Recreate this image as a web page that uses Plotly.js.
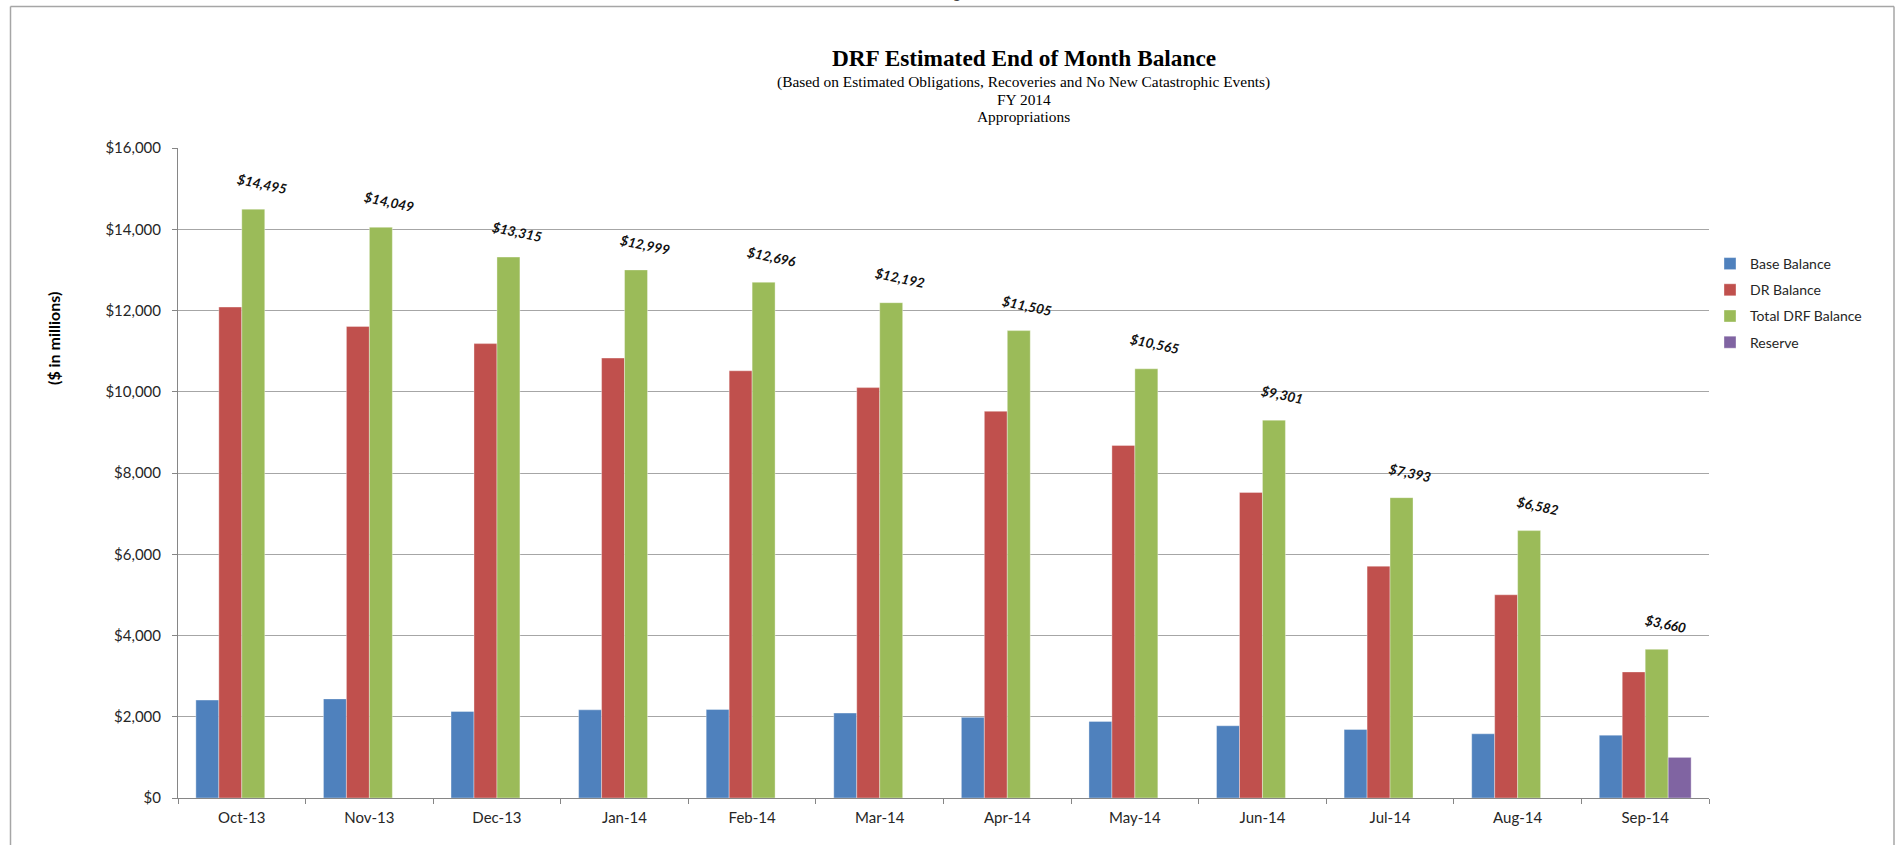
<!DOCTYPE html>
<html>
<head>
<meta charset="utf-8">
<script src="https://cdn.plot.ly/plotly-3.0.1.min.js"></script>
<style>
html,body{margin:0;padding:0;background:#fff;overflow:hidden}
#chart{width:1899px;height:845px}
</style>
</head>
<body>
<div id="chart"></div>
<script>
// ---- data ----
const months = ["Oct-13","Nov-13","Dec-13","Jan-14","Feb-14","Mar-14","Apr-14","May-14","Jun-14","Jul-14","Aug-14","Sep-14"];
const baseBalance = [2410,2440,2130,2170,2180,2090,1985,1886,1778,1687,1580,1547];
const drBalance = [12085,11609,11185,10829,10516,10102,9520,8679,7523,5706,5002,3103];
const totalDrfBalance = [14495,14049,13315,12999,12696,12192,11505,10565,9301,7393,6582,3660];
const reserve = [null,null,null,null,null,null,null,null,null,null,null,1000];
const seriesNames = ["Base Balance","DR Balance","Total DRF Balance","Reserve"];
const titleText = "DRF Estimated End of Month Balance";
const subtitleLines = ["(Based on Estimated Obligations, Recoveries and No New Catastrophic Events)","FY 2014","Appropriations"];
const yAxisLabel = "($ in millions)";
const pageText = "Page 1 of 1";

// ---- layout helpers (pixel -> paper) ----
const W = 1899, H = 845;
const M = {l:178, r:190, t:148, b:47};
const PW = W - M.l - M.r, PH = H - M.t - M.b;
const px = v => (v - M.l) / PW;
const py = v => 1 - (v - M.t) / PH;

const colors = ["#4F81BD","#C0504D","#9BBB59","#8064A2"];
const uiFont = "Lato, 'Open Sans', sans-serif";
const serif = "'Liberation Serif', 'Times New Roman', serif";
const seriesValues = [baseBalance, drBalance, totalDrfBalance, reserve];

const traces = seriesValues.map((vals, k) => ({
  type: "bar",
  name: seriesNames[k],
  legendgroup: "g" + k,
  x: months,
  y: vals,
  marker: {color: colors[k], line: {color: "rgba(255,255,255,0.45)", width: 0.8}},
  hoverinfo: "skip"
}));

const fmt = v => "$" + v.toLocaleString("en-US");

const annotations = [];
subtitleLines.forEach((t, i) => {
  annotations.push({
    text: t, xref: "paper", yref: "paper", x: px(1024), y: py(82 + i * 17),
    xanchor: "center", yanchor: "middle", showarrow: false,
    font: {family: serif, size: 15.4, color: "#000"}
  });
});
annotations.push({
  text: "<b>" + yAxisLabel + "</b>", xref: "paper", yref: "paper",
  x: px(53), y: py(338), textangle: -90, showarrow: false,
  xanchor: "center", yanchor: "middle",
  font: {family: uiFont, size: 16, color: "#000"}
});
annotations.push({
  text: pageText, xref: "paper", yref: "paper", x: px(972), y: py(4),
  xanchor: "center", yanchor: "bottom", showarrow: false,
  font: {family: uiFont, size: 14, color: "#444"}
});
months.forEach((m, i) => {
  annotations.push({
    text: "<b><i>" + fmt(totalDrfBalance[i]) + "</i></b>",
    xref: "x", yref: "y", x: m, y: totalDrfBalance[i],
    xshift: 20, yshift: 25, textangle: 12, showarrow: false,
    xanchor: "center", yanchor: "middle",
    font: {family: uiFont, size: 13.5, color: "#111"}
  });
});

const frame = {color: "#A6A6A6", width: 1.5};
const shapes = [
  {type: "line", xref: "paper", yref: "paper", x0: px(10.5), x1: px(10.5), y0: py(6.5), y1: py(860), line: frame},
  {type: "line", xref: "paper", yref: "paper", x0: px(10.5), x1: px(1894), y0: py(6.5), y1: py(6.5), line: frame},
  {type: "line", xref: "paper", yref: "paper", x0: px(1894), x1: px(1894), y0: py(6.5), y1: py(860), line: frame}
];

const layout = {
  width: W, height: H,
  margin: M,
  paper_bgcolor: "#fff", plot_bgcolor: "#fff",
  title: {
    text: "<b>" + titleText + "</b>",
    font: {family: serif, size: 23.3, color: "#000"},
    xref: "container", yref: "container",
    x: 1024 / W, xanchor: "center", y: 1 - 58 / H, yanchor: "middle"
  },
  barmode: "group", bargap: 0.28, bargroupgap: 0,
  hovermode: false,
  showlegend: true,
  legend: {
    x: px(1710), xanchor: "left", y: py(248), yanchor: "top",
    traceorder: "grouped", tracegroupgap: 5,
    font: {family: uiFont, size: 14, color: "#262626"},
    bgcolor: "rgba(0,0,0,0)"
  },
  xaxis: {
    type: "category",
    showline: true, linecolor: "#868686", linewidth: 1,
    ticks: "outside", tickson: "boundaries", ticklen: 5, tickcolor: "#868686",
    ticklabelstandoff: 6,
    tickfont: {family: uiFont, size: 15, color: "#262626"},
    showgrid: false, zeroline: false, fixedrange: true
  },
  yaxis: {
    range: [0, 16000], dtick: 2000, tick0: 0,
    tickprefix: "$", tickformat: ",d",
    showline: true, linecolor: "#868686", linewidth: 1,
    ticks: "outside", ticklen: 5, tickcolor: "#868686",
    ticklabelstandoff: 8,
    showgrid: true, gridcolor: "#A6A6A6", gridwidth: 1,
    zeroline: false, fixedrange: true,
    tickfont: {family: uiFont, size: 15, color: "#262626"}
  },
  annotations: annotations,
  shapes: shapes
};

Plotly.newPlot("chart", traces, layout, {displayModeBar: false, staticPlot: true});
</script>
</body>
</html>
